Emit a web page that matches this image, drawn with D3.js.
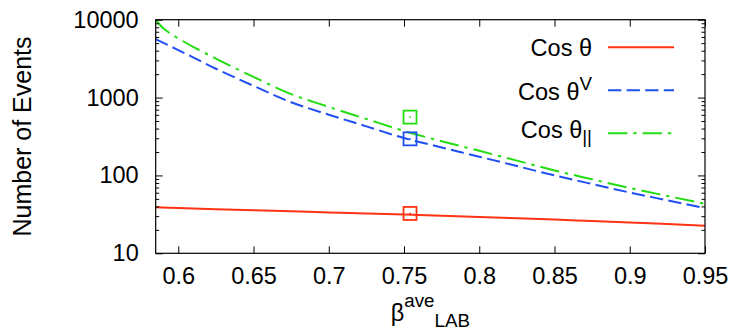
<!DOCTYPE html>
<html>
<head>
<meta charset="utf-8">
<script src="https://cdn.jsdelivr.net/npm/d3@7"></script>
<style>
  html, body { margin: 0; padding: 0; background: #fff; }
  svg { display: block; }
  text { font-family: "Liberation Sans", Arial, Helvetica, sans-serif; fill: #000; }
</style>
</head>
<body>
<svg id="chart" width="735" height="333"></svg>
<script>
// ── Data ─────────────────────────────────────────────────────────────────
const betaGrid   = [0.585, 0.6, 0.625, 0.65, 0.675, 0.7, 0.725, 0.75, 0.775, 0.8, 0.825, 0.85, 0.875, 0.9, 0.925, 0.95];
const cosTheta   = [38.9, 38.1, 36.9, 35.7, 34.6, 33.5, 32.5, 31.5, 30.4, 29.3, 28.2, 27.1, 25.9, 24.8, 23.7, 22.6];
const cosThetaV  = [5610, 4074, 2344, 1413, 871, 603, 427, 302, 229, 174, 132, 100, 77.6, 60.3, 47.9, 38.0];
const betaGridP  = [0.585, 0.59, 0.5945, 0.6, 0.625, 0.65, 0.675, 0.7, 0.725, 0.75, 0.775, 0.8, 0.825, 0.85, 0.875, 0.9, 0.925, 0.95];
const cosThetaP  = [10000, 7760, 6700, 5754, 3162, 1841, 1109, 759, 531, 372, 275, 207, 155, 116, 89.1, 68.9, 54.5, 43.2];

// measured points (squares)
const measBeta   = 0.754;
const measValues = [32.5, 295, 561];

const xTicks = [0.6, 0.65, 0.7, 0.75, 0.8, 0.85, 0.9, 0.95];
const yTicks = [10, 100, 1000, 10000];

const series = [
  { label: ['Cos θ'],              xs: betaGrid,  ys: cosTheta,  color: '#ff3311', dash: null },
  { label: ['Cos θ', 'V', 'sup'],  xs: betaGrid,  ys: cosThetaV, color: '#1f4ff0', dash: '13.3,5.3' },
  { label: ['Cos θ', '||', 'sub'], xs: betaGridP, ys: cosThetaP, color: '#22dd11', dash: '19.3,6,3.3,6' },
];

// ── Layout ───────────────────────────────────────────────────────────────
const W = 735, H = 333;
const M = { top: 19.7, right: 30, bottom: 79.7, left: 155.7 };
const FS = 23.5;

const svg = d3.select('#chart');
const x = d3.scaleLinear().domain([0.585, 0.95]).range([M.left, W - M.right]);
const y = d3.scaleLog().domain([10, 10000]).range([H - M.bottom, M.top]);

svg.append('defs').append('clipPath').attr('id', 'plot-clip')
  .append('rect')
  .attr('x', M.left).attr('y', M.top)
  .attr('width', W - M.left - M.right).attr('height', H - M.top - M.bottom);

// ── Axes: ticks inward, mirrored on top / right ──────────────────────────
const minorY = [];
yTicks.slice(0, -1).forEach(d => { for (let k = 2; k <= 9; k++) minorY.push(d * k); });

function drawAxes() {
  const ax = svg.append('g').attr('class', 'axes');
  const bottom = d3.axisBottom(x).tickValues(xTicks).tickSize(-7).tickPadding(14)
    .tickFormat(d3.format('~g'));
  const top = d3.axisTop(x).tickValues(xTicks).tickSize(-7).tickFormat('');
  const left = d3.axisLeft(y).tickValues(yTicks).tickSize(-7).tickPadding(17)
    .tickFormat(d3.format('d'));
  const right = d3.axisRight(y).tickValues(yTicks).tickSize(-7).tickFormat('');
  const leftMinor = d3.axisLeft(y).tickValues(minorY).tickSize(-3.5).tickFormat('');
  const rightMinor = d3.axisRight(y).tickValues(minorY).tickSize(-3.5).tickFormat('');

  ax.append('g').attr('transform', `translate(0,${H - M.bottom})`).call(bottom);
  ax.append('g').attr('transform', `translate(0,${M.top})`).call(top);
  ax.append('g').attr('transform', `translate(${M.left},0)`).call(left);
  ax.append('g').attr('transform', `translate(${W - M.right},0)`).call(right);
  ax.append('g').attr('transform', `translate(${M.left},0)`).call(leftMinor);
  ax.append('g').attr('transform', `translate(${W - M.right},0)`).call(rightMinor);

  ax.selectAll('.domain').remove();
  ax.selectAll('.tick line').attr('stroke', '#000').attr('stroke-width', 1);
  ax.selectAll('.tick text').attr('font-size', FS).attr('font-family', '"Liberation Sans", Arial, sans-serif')
    .attr('fill', '#000');

  ax.append('rect')
    .attr('x', M.left).attr('y', M.top)
    .attr('width', W - M.left - M.right).attr('height', H - M.top - M.bottom)
    .attr('fill', 'none').attr('stroke', '#000').attr('stroke-width', 1.2);
}

// ── Curves ───────────────────────────────────────────────────────────────
function drawSeries() {
  const g = svg.append('g').attr('clip-path', 'url(#plot-clip)');
  const line = d3.line().x(d => x(d[0])).y(d => y(d[1])).curve(d3.curveMonotoneX);
  series.forEach(s => {
    g.append('path')
      .datum(d3.zip(s.xs, s.ys))
      .attr('d', line)
      .attr('fill', 'none')
      .attr('stroke', s.color)
      .attr('stroke-width', 2)
      .attr('stroke-dasharray', s.dash);
  });

  // measured points: open squares with a dot
  series.forEach((s, i) => {
    const cx = x(measBeta), cy = y(measValues[i]);
    g.append('rect')
      .attr('x', cx - 6.5).attr('y', cy - 6.5)
      .attr('width', 13).attr('height', 13)
      .attr('fill', 'none').attr('stroke', s.color).attr('stroke-width', 1.8);
    g.append('circle').attr('cx', cx).attr('cy', cy).attr('r', 0.9).attr('fill', s.color);
  });
}

// ── Legend ───────────────────────────────────────────────────────────────
function drawLegend() {
  const lg = svg.append('g').attr('class', 'legend');
  const rowY = [47.3, 90.3, 133.3];
  const textDy = [8.6, 10, 5];
  series.forEach((s, i) => {
    const t = lg.append('text')
      .attr('x', 592).attr('y', rowY[i] + textDy[i])
      .attr('text-anchor', 'end').attr('font-size', FS);
    t.append('tspan').text(s.label[0]);
    if (s.label[1]) {
      t.append('tspan')
        .attr('font-size', FS * 0.8)
        .attr('dy', s.label[2] === 'sup' ? -10 : 5)
        .text(s.label[1]);
    }
    lg.append('line')
      .attr('x1', 608).attr('x2', 674)
      .attr('y1', rowY[i]).attr('y2', rowY[i])
      .attr('stroke', s.color).attr('stroke-width', 2)
      .attr('stroke-dasharray', s.dash);
  });
}

// ── Axis titles ──────────────────────────────────────────────────────────
function drawTitles() {
  svg.append('text')
    .attr('transform', `translate(31,${(M.top + H - M.bottom) / 2}) rotate(-90)`)
    .attr('text-anchor', 'middle').attr('font-size', 25)
    .text('Number of Events');

  const xl = svg.append('text')
    .attr('x', (M.left + W - M.right) / 2).attr('y', 321)
    .attr('text-anchor', 'middle').attr('font-size', FS);
  xl.append('tspan').text('β');
  xl.append('tspan').attr('font-size', FS * 0.8).attr('dy', -14).text('ave');
  xl.append('tspan').attr('font-size', FS * 0.8).attr('dy', 20).text('LAB');
}

drawSeries();
drawAxes();
drawLegend();
drawTitles();
</script>
</body>
</html>
